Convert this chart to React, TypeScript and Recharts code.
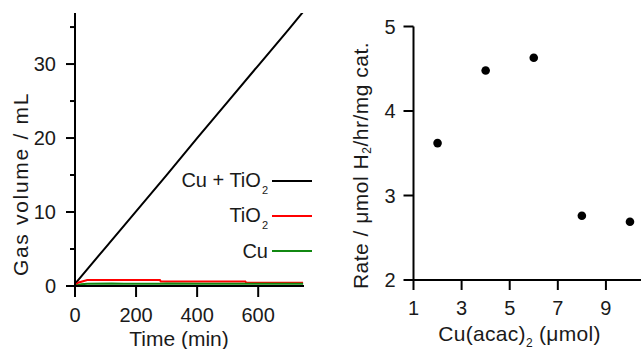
import React from "react";
import { Label, Line, LineChart, Scatter, ScatterChart, XAxis, YAxis } from "recharts";

const INK = "#1a1a1a";
const AXIS = { stroke: "#000", strokeWidth: 2 };
const FONT = '"Liberation Sans", Arial, Helvetica, sans-serif';

// left panel: gas evolution vs time
const TIME_CU_TIO2 = [0, 100, 200, 300, 400, 500, 600, 700, 750];
const VOL_CU_TIO2 = [0.3, 5.2, 10.1, 15.0, 20.0, 24.9, 29.8, 34.7, 37.2];

const TIME_TIO2 = [0, 10, 40, 278, 281, 558, 561, 747];
const VOL_TIO2 = [0, 0.45, 0.82, 0.82, 0.6, 0.6, 0.44, 0.44];

const TIME_CU = [0, 20, 40, 120, 160, 280, 300, 420, 460, 560, 600, 700, 747];
const VOL_CU = [0, 0.25, 0.32, 0.34, 0.3, 0.32, 0.34, 0.3, 0.32, 0.32, 0.3, 0.32, 0.32];

const TIME_TICKS = [0, 200, 400, 600];
const VOL_TICKS = [0, 5, 10, 15, 20, 25, 30, 35];

// right panel: rate vs Cu(acac)2 loading
const CU_ACAC = [2, 4, 6, 8, 10];
const RATE = [3.62, 4.48, 4.63, 2.76, 2.69];
const CU_TICKS = [1, 3, 5, 7, 9];
const RATE_TICKS = [2, 3, 4, 5];

const LEGEND = [
  { label: "Cu + TiO", sub: "2", color: "#000", cy: 181 },
  { label: "TiO", sub: "2", color: "#ff0000", cy: 216 },
  { label: "Cu", sub: "", color: "#118811", cy: 251 },
];

const zip = (xs: number[], ys: number[], kx: string, ky: string) =>
  xs.map((x, i) => ({ [kx]: x, [ky]: ys[i] }));

const cuTio2Data = zip(TIME_CU_TIO2, VOL_CU_TIO2, "t", "v");
const tio2Data = zip(TIME_TIO2, VOL_TIO2, "t", "v");
const cuData = zip(TIME_CU, VOL_CU, "t", "v");
const rateData = zip(CU_ACAC, RATE, "x", "y");

function VolTick({ x, y, payload }: any) {
  const major = payload.value % 10 === 0;
  return (
    <g>
      <line x1={x - (major ? 9 : 5)} x2={x} y1={y} y2={y} stroke="#000" strokeWidth={2} />
      {major && (
        <text x={x - 19} y={y + 7} textAnchor="end" fontSize={20} fill={INK}>
          {payload.value}
        </text>
      )}
    </g>
  );
}

function TimeTick({ x, y, payload }: any) {
  return (
    <g>
      <line x1={x} x2={x} y1={y} y2={y + 11} stroke="#000" strokeWidth={2} />
      <text x={x} y={y + 36} textAnchor="middle" fontSize={20} fill={INK}>
        {payload.value}
      </text>
    </g>
  );
}

function RateTick({ x, y, payload }: any) {
  return (
    <g>
      <line x1={x - 10} x2={x} y1={y} y2={y} stroke="#000" strokeWidth={2} />
      <text x={x - 18} y={y + 7} textAnchor="end" fontSize={20} fill={INK}>
        {payload.value}
      </text>
    </g>
  );
}

function CuTick({ x, y, payload }: any) {
  return (
    <g>
      <line x1={x} x2={x} y1={y} y2={y + 10} stroke="#000" strokeWidth={2} />
      <text x={x} y={y + 35} textAnchor="middle" fontSize={20} fill={INK}>
        {payload.value}
      </text>
    </g>
  );
}

function TimeLabel({ viewBox }: any) {
  return (
    <text x={viewBox.x + 104} y={viewBox.y + 60} textAnchor="middle" fontSize={21} fill={INK}>
      Time (min)
    </text>
  );
}

function VolLabel({ viewBox }: any) {
  const cx = viewBox.x + 20;
  const cy = viewBox.y + 171;
  return (
    <text
      x={cx}
      y={cy}
      transform={`rotate(-90 ${cx} ${cy})`}
      textAnchor="middle"
      dominantBaseline="central"
      fontSize={21}
      letterSpacing={1.7}
      fill={INK}
    >
      Gas volume / mL
    </text>
  );
}

function CuLabel({ viewBox }: any) {
  return (
    <text
      x={viewBox.x + 106}
      y={viewBox.y + 61}
      textAnchor="middle"
      fontSize={21}
      letterSpacing={0.3}
      fill={INK}
    >
      Cu(acac)
      <tspan fontSize={12} dy={6}>2</tspan>
      <tspan dy={-6}> (μmol)</tspan>
    </text>
  );
}

function RateLabel({ viewBox }: any) {
  const cx = viewBox.x + 40;
  const cy = viewBox.y + 139;
  return (
    <text
      x={cx}
      y={cy}
      transform={`rotate(-90 ${cx} ${cy})`}
      textAnchor="middle"
      dominantBaseline="central"
      fontSize={21}
      letterSpacing={0.5}
      fill={INK}
    >
      Rate / μmol H
      <tspan fontSize={12} dy={7}>2</tspan>
      <tspan dy={-7}>/hr/mg cat.</tspan>
    </text>
  );
}

const Dot = (p: any) => <circle cx={p.cx} cy={p.cy} r={4.3} fill="#000" />;

export default function App() {
  return (
    <div
      style={{
        position: "absolute",
        left: 0,
        top: 0,
        width: 641,
        height: 349,
        overflow: "hidden",
        background: "#fff",
        fontFamily: FONT,
      }}
    >
      <div style={{ position: "absolute", left: 0, top: 0 }}>
        <LineChart width={320} height={349} margin={{ top: 13, right: 16, bottom: 0, left: 0 }}>
          <XAxis
            type="number"
            dataKey="t"
            domain={[0, 750]}
            ticks={TIME_TICKS}
            height={63}
            axisLine={AXIS}
            tickLine={false}
            tickSize={0}
            tickMargin={0}
            tick={<TimeTick />}
            allowDuplicatedCategory={false}
          >
            <Label content={<TimeLabel />} />
          </XAxis>
          <YAxis
            type="number"
            domain={[0, 36.9]}
            allowDataOverflow
            ticks={VOL_TICKS}
            width={75}
            axisLine={AXIS}
            tickLine={false}
            tickSize={0}
            tickMargin={0}
            tick={<VolTick />}
          >
            <Label content={<VolLabel />} />
          </YAxis>
          <Line data={cuTio2Data} dataKey="v" name="Cu + TiO₂" stroke="#000" strokeWidth={2} dot={false} isAnimationActive={false} />
          <Line data={tio2Data} dataKey="v" name="TiO₂" stroke="#ff0000" strokeWidth={2} dot={false} isAnimationActive={false} />
          <Line data={cuData} dataKey="v" name="Cu" stroke="#118811" strokeWidth={2} dot={false} isAnimationActive={false} />
        </LineChart>
      </div>

      {LEGEND.map((l) => (
        <div
          key={l.label}
          style={{
            position: "absolute",
            right: 641 - 312,
            top: l.cy - 12,
            height: 24,
            display: "flex",
            alignItems: "center",
            fontSize: 20,
            color: INK,
            whiteSpace: "nowrap",
          }}
        >
          <span style={{ lineHeight: "24px" }}>
            {l.label}
            {l.sub && (
              <span style={{ fontSize: 11, position: "relative", top: 7, marginLeft: 1 }}>{l.sub}</span>
            )}
          </span>
          <span style={{ display: "inline-block", width: 40, height: 2, marginLeft: 4, background: l.color }} />
        </div>
      ))}

      <div style={{ position: "absolute", left: 320, top: 0 }}>
        <ScatterChart width={322} height={349} margin={{ top: 26.5, right: 0, bottom: 0, left: 0 }}>
          <XAxis
            type="number"
            dataKey="x"
            domain={[1, 10.5]}
            ticks={CU_TICKS}
            height={69}
            axisLine={AXIS}
            tickLine={false}
            tickSize={0}
            tickMargin={0}
            tick={<CuTick />}
          >
            <Label content={<CuLabel />} />
          </XAxis>
          <YAxis
            type="number"
            dataKey="y"
            domain={[2, 5]}
            ticks={RATE_TICKS}
            width={93.5}
            axisLine={AXIS}
            tickLine={false}
            tickSize={0}
            tickMargin={0}
            tick={<RateTick />}
          >
            <Label content={<RateLabel />} />
          </YAxis>
          <Scatter data={rateData} fill="#000" shape={<Dot />} isAnimationActive={false} />
        </ScatterChart>
      </div>
    </div>
  );
}
